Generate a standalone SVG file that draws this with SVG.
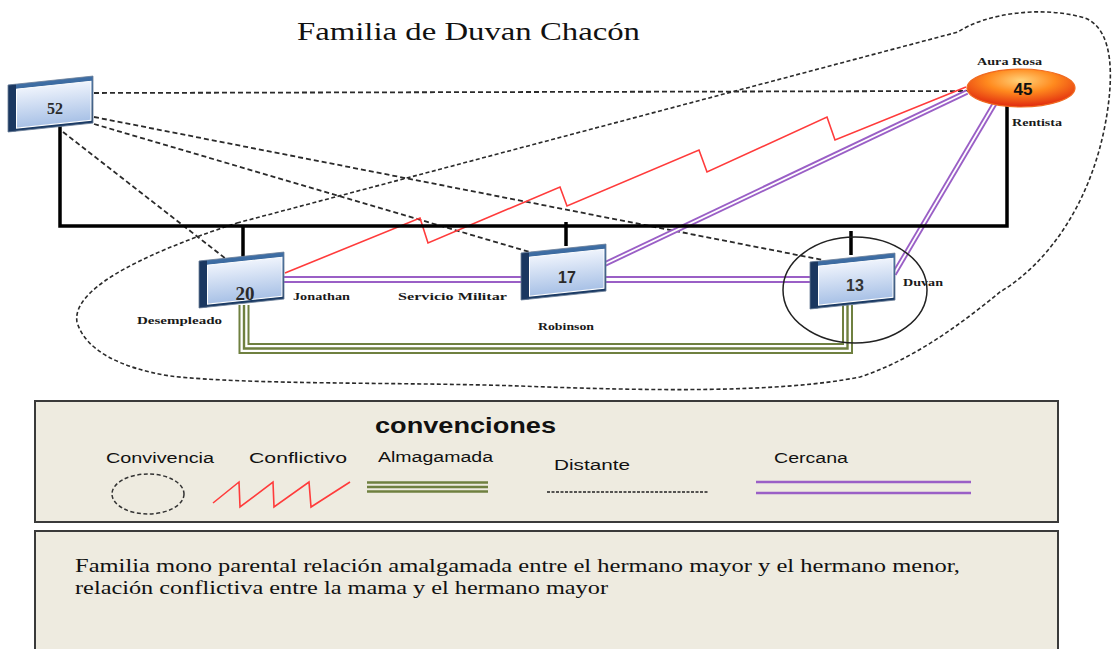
<svg xmlns="http://www.w3.org/2000/svg" width="1112" height="649" viewBox="0 0 1112 649">
<style>
.dist{fill:none;stroke:#2a2a2a;stroke-width:1.8;stroke-dasharray:5 3}
.fam{fill:none;stroke:#000;stroke-width:3.5}
.red{fill:none;stroke:#FF3B3B;stroke-width:1.6;stroke-linejoin:miter}
.pur{fill:none;stroke:#9A5FC6}
.gap{fill:none;stroke:#fff}
.grn{fill:none;stroke:#6F8040;stroke-linejoin:miter}
.lbl{font-family:"Liberation Serif",serif;font-weight:bold;font-size:10px;fill:#1a1a1a}
.leg{font-family:"Liberation Sans",Arial,sans-serif;font-size:14px;fill:#111}
.box{fill:#EEEBE0;stroke:#3a3a3a;stroke-width:2}
</style>
<defs>
<linearGradient id="face" x1="0" y1="0" x2="0" y2="1">
<stop offset="0" stop-color="#EEF3FC"/>
<stop offset="1" stop-color="#A8C1E6"/>
</linearGradient>
<linearGradient id="frame" x1="0" y1="0" x2="0" y2="1">
<stop offset="0" stop-color="#3F6FA6"/>
<stop offset="1" stop-color="#1B3A63"/>
</linearGradient>
<radialGradient id="orb" cx="0.5" cy="0.3" r="0.7">
<stop offset="0" stop-color="#FFD27A"/>
<stop offset="0.45" stop-color="#FF8A1E"/>
<stop offset="1" stop-color="#E0280E"/>
</radialGradient>
<g id="nodebox">
<rect x="0" y="0" width="85" height="47" fill="url(#frame)"/>
<rect x="0" y="0" width="8" height="47" fill="#1A3760"/>
<rect x="8.5" y="5" width="74.5" height="39" fill="url(#face)" stroke="#FFFFFF" stroke-width="1"/>
<rect x="0" y="0" width="85" height="47" fill="none" stroke="#6B7F98" stroke-width="0.8"/>
</g>
</defs>
<rect width="1112" height="649" fill="#FFFFFF"/>

<text x="297" y="40" font-family="Liberation Serif,serif" font-size="26" fill="#111" textLength="343" lengthAdjust="spacingAndGlyphs">Familia de Duvan Chacón</text>

<!-- convivencia outline -->
<path class="dist" style="stroke-dasharray:4 2.5;stroke-width:1.6" d="M 237 223 L 958 32 C 985 14, 1040 5, 1085 18 C 1115 30, 1113 80, 1106 120 C 1092 200, 1050 262, 1000 292 C 960 325, 912 360, 860 377 C 780 393, 650 391, 520 386 C 400 382, 250 385, 170 376 C 120 368, 85 350, 77 322 C 72 292, 130 258, 237 223 Z"/>

<g id="connectors">
<!-- distant -->
<line class="dist" x1="94" y1="93" x2="968" y2="91"/>
<line class="dist" x1="63" y1="132" x2="230" y2="262"/>
<line class="dist" x1="94" y1="124" x2="533" y2="253"/>
<line class="dist" x1="94" y1="117" x2="823" y2="260"/>
<!-- cercana -->
<path class="pur" stroke-width="7" d="M 283 279.5 H 810"/>
<path class="gap" stroke-width="3" d="M 283 279.5 H 810"/>
<path class="pur" stroke-width="5.5" d="M 605 264 L 967 92"/>
<path class="gap" stroke-width="1.8" d="M 605 264 L 967 92"/>
<path class="pur" stroke-width="5.5" d="M 894 274 L 995 103"/>
<path class="gap" stroke-width="1.8" d="M 894 274 L 995 103"/>
<!-- conflictiva -->
<polyline class="red" points="285,273 420,218 428,243 560,187 567,206 699,150 707,172 827,117 835,140 966,87"/>
<!-- amalgamada -->
<path class="grn" stroke-width="11" d="M 244 305 V 348.5 H 847.5 V 305"/>
<path class="gap" stroke-width="7" d="M 244 305 V 348.5 H 847.5 V 305"/>
<path class="grn" stroke-width="2.4" d="M 244 305 V 348.5 H 847.5 V 305"/>
<!-- family lines -->
<path class="fam" d="M 60 125 V 226 H 1007 V 105"/>
<line class="fam" x1="243" y1="226" x2="243" y2="260"/>
<line class="fam" x1="566" y1="222" x2="566" y2="246"/>
<line class="fam" x1="851" y1="231" x2="851" y2="255"/>
</g>

<ellipse cx="855" cy="290" rx="72" ry="53" fill="none" stroke="#222" stroke-width="1.5"/>

<g id="n52">
<use href="#nodebox" transform="translate(8,85) skewY(-6)"/>
<text x="55" y="114" text-anchor="middle" font-family="Liberation Serif,serif" font-weight="bold" font-size="16" fill="#2a2a2a">52</text>
</g>
<g id="n20">
<use href="#nodebox" transform="translate(199,261) skewY(-6)"/>
<text x="245" y="300" text-anchor="middle" font-family="Liberation Serif,serif" font-weight="bold" font-size="19" fill="#2a2a2a">20</text>
</g>
<g id="n17">
<use href="#nodebox" transform="translate(521,253) skewY(-6)"/>
<text x="567" y="283" text-anchor="middle" font-family="Liberation Sans,Arial,sans-serif" font-weight="bold" font-size="16" fill="#2a2a2a">17</text>
</g>
<g id="n13">
<use href="#nodebox" transform="translate(810,262) skewY(-6)"/>
<text x="855" y="291" text-anchor="middle" font-family="Liberation Sans,Arial,sans-serif" font-weight="bold" font-size="16" fill="#333">13</text>
</g>
<g id="n45">
<ellipse cx="1021" cy="88" rx="54" ry="19" fill="url(#orb)" stroke="#F06A20" stroke-width="1.2"/>
<text x="1023" y="95" text-anchor="middle" font-family="Liberation Sans,Arial,sans-serif" font-weight="bold" font-size="17" fill="#111">45</text>
</g>

<g id="labels">
<text class="lbl" x="977" y="65" textLength="65" lengthAdjust="spacingAndGlyphs">Aura Rosa</text>
<text class="lbl" x="1012" y="126" textLength="50" lengthAdjust="spacingAndGlyphs">Rentista</text>
<text class="lbl" x="903" y="286" textLength="40" lengthAdjust="spacingAndGlyphs">Duvan</text>
<text class="lbl" x="293" y="300" textLength="57" lengthAdjust="spacingAndGlyphs">Jonathan</text>
<text class="lbl" x="398" y="300" textLength="109" lengthAdjust="spacingAndGlyphs">Servicio Militar</text>
<text class="lbl" x="538" y="330" textLength="56" lengthAdjust="spacingAndGlyphs">Robinson</text>
<text class="lbl" x="137" y="324" textLength="85" lengthAdjust="spacingAndGlyphs">Desempleado</text>
</g>

<g id="legend">
<rect class="box" x="35" y="401" width="1023" height="121"/>
<text x="375" y="433" font-family="Liberation Sans,Arial,sans-serif" font-weight="bold" font-size="22" fill="#111" textLength="181" lengthAdjust="spacingAndGlyphs">convenciones</text>
<text class="leg" x="106" y="463" textLength="108" lengthAdjust="spacingAndGlyphs">Convivencia</text>
<text class="leg" x="249" y="463" textLength="98" lengthAdjust="spacingAndGlyphs">Conflictivo</text>
<text class="leg" x="378" y="462" textLength="115" lengthAdjust="spacingAndGlyphs">Almagamada</text>
<text class="leg" x="554" y="470" textLength="76" lengthAdjust="spacingAndGlyphs">Distante</text>
<text class="leg" x="774" y="463" textLength="74" lengthAdjust="spacingAndGlyphs">Cercana</text>
<ellipse cx="148" cy="494" rx="36" ry="20" fill="none" stroke="#333" stroke-width="1.5" stroke-dasharray="4 2.5"/>
<polyline class="red" points="213,503 239,482 240,507 273,482 274,507 309,482 311,507 350,482"/>
<g class="grn" stroke-width="2.5">
<line x1="367" y1="482.5" x2="488" y2="482.5"/>
<line x1="367" y1="487" x2="488" y2="487"/>
<line x1="367" y1="491.5" x2="488" y2="491.5"/>
</g>
<line x1="547" y1="492" x2="708" y2="492" stroke="#222" stroke-width="1.5" stroke-dasharray="3 1.5"/>
<g class="pur" stroke-width="2.5">
<line x1="756" y1="482" x2="971" y2="482"/>
<line x1="756" y1="493" x2="971" y2="493"/>
</g>
</g>

<g id="description">
<rect class="box" x="35" y="531" width="1023" height="130"/>
<text x="75" y="572" font-family="Liberation Serif,serif" font-size="18" fill="#111" textLength="885" lengthAdjust="spacingAndGlyphs">Familia mono parental relación amalgamada entre el hermano mayor y el hermano menor,</text>
<text x="75" y="594" font-family="Liberation Serif,serif" font-size="18" fill="#111" textLength="533" lengthAdjust="spacingAndGlyphs">relación conflictiva entre la mama y el hermano mayor</text>
</g>
</svg>
